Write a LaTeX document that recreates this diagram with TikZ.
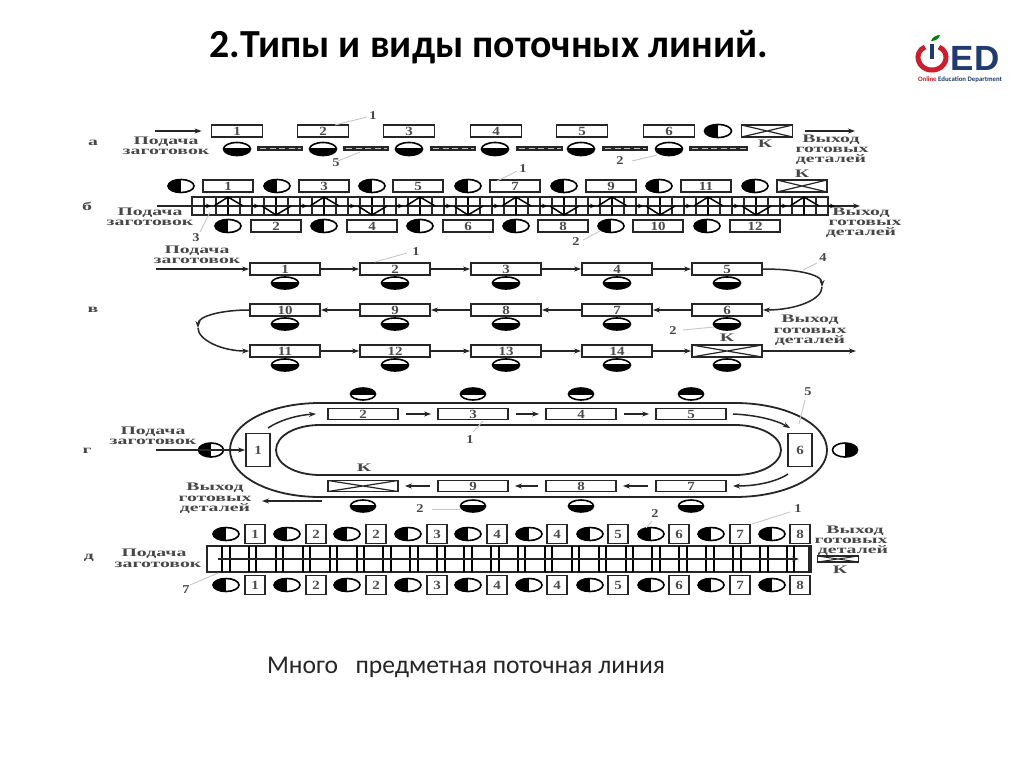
\documentclass[tikz,border=0pt]{standalone}
\usepackage{fontspec}
\setmainfont{Carlito}
\newfontfamily\lab[FakeStretch=1.72]{Liberation Serif}
\newfontfamily\labn[FakeStretch=1.2]{Liberation Serif}
\newfontfamily\logofont{Liberation Sans}
\usetikzlibrary{shapes.geometric,arrows.meta}
\colorlet{ink}{black!85}
\definecolor{logoblue}{HTML}{1F3B70}
\definecolor{logored}{HTML}{C8202E}
\tikzset{
  lw/.style={line width=1.8pt,draw=ink},
  bx/.style={lw,rectangle,inner sep=0pt,minimum height=12pt,minimum width=50pt,fill=white,font=\labn\bfseries\fontsize{12.5}{12}\selectfont,text=black!70},
  xbx/.style={bx,path picture={\draw[ink,line width=1.2pt]
     (path picture bounding box.south west)--(path picture bounding box.north east)
     (path picture bounding box.north west)--(path picture bounding box.south east);}},
  mach/.style={ellipse,draw=black,line width=1.6pt,fill=white,inner sep=0pt,minimum width=26pt,minimum height=13pt},
  mb/.style={mach,path picture={\fill[black] ([yshift=1pt]path picture bounding box.west) rectangle (path picture bounding box.south east);}},
  mt/.style={mach,path picture={\fill[black] (path picture bounding box.north west) rectangle ([yshift=-1pt]path picture bounding box.east);}},
  ml/.style={mach,path picture={\fill[black] (path picture bounding box.south west) rectangle (path picture bounding box.north);}},
  mr/.style={mach,path picture={\fill[black] (path picture bounding box.south) rectangle (path picture bounding box.north east);}},
  txt/.style={font=\lab\bfseries\fontsize{11.5}{11}\selectfont,text=black!72,inner sep=0pt},
  lead/.style={draw=black!22,line width=.9pt},
  conv/.style={draw=ink,line width=1.5pt,-{Stealth[length=7pt,width=5pt]}},
}
\begin{document}
\begin{tikzpicture}[x=1pt,y=-1pt]
\useasboundingbox (0,0) rectangle (1024,767);
\fill[white] (0,0) rectangle (1024,767);
% title and caption
\node[font=\bfseries\fontsize{39.8}{42}\selectfont,inner sep=0pt] (title) at (489,47) {2.Типы и виды поточных линий.};
\node[font=\fontsize{25.6}{28}\selectfont,inner sep=0pt,text=black!85] (cap) at (466,667) {Много \ \ предметная поточная линия};
% logo
\draw[line width=5pt,logored] (925,47) .. controls (913,52) and (917,70) .. (932,70) .. controls (947,70) and (951,52) .. (939,47);
\draw[line width=4pt,logoblue] (932,44)--(932,59);
\fill[green!50!black] (931,41) .. controls (932,37) and (937,35) .. (940,35) .. controls (939,39) and (935,41) .. (931,41);
\node[font=\logofont\bfseries\fontsize{35}{35}\selectfont,text=logoblue,inner sep=0pt] (ed) at (975,58) {ED};
\node[font=\bfseries\fontsize{6.8}{7}\selectfont,text=logoblue,inner sep=0pt] (dept) at (960,79.5) {\textcolor{logored}{Online} Education Department};
% row labels
\foreach \n/\x/\y/\t in {ra/93/143/а,rb/87/206/б,rv/93/310/в,rg/87/451/г,rd/89/558/д}
  \node[txt] (\n) at (\x,\y) {\t};
% ---- row a
\foreach \x/\l in {237/1,323/2,409/3,496/4,582/5,669/6}
  \node[bx,minimum width=51pt] (a\l) at (\x,131) {\l};
\node[xbx,minimum width=51pt] (aK) at (767,131) {};
\node[ml,minimum width=27pt] (amK) at (718,131) {};
\foreach \x/\l in {237/1,323/2,409/3,495/4,581/5,669/6}
  \node[mb,minimum width=27pt] (am\l) at (\x,149) {};
\foreach \n/\a/\b in {1/257/303,2/343/389,3/430/476,4/516/563,5/602/648,6/689/748}{
  \draw[line width=5pt,black!85] (\a,149)--(\b,149);
  \draw[line width=1pt,black!25,dash pattern=on 6pt off 3.5pt] (\a+3,149)--(\b-2,149);
}
\coordinate (ain) at (155,131); \draw[conv,shorten >=9pt] (ain)--(a1.west);
\coordinate (aout) at (855,131); \coordinate (aout0) at (805,131); \draw[conv] (aout0)--(aout);
\node[txt] (t1) at (166,142) {Подача};
\node[txt] (t2) at (166,152) {заготовок};
\node[txt] (t3) at (831,140) {Выход};
\node[txt] (t4) at (832,150) {готовых};
\node[txt] (t5) at (831,160) {деталей};
\node[txt] (tK1) at (765,144) {К};
% ---- row b
\foreach \x/\l in {228/1,324/3,418/5,515/7,611/9,706/11}
  \node[bx] (b\l) at (\x,186) {\l};
\node[xbx] (bK) at (802,186) {};
\foreach \x [count=\i] in {181,277,372,468,564,659,755}
  \node[ml] (bm\i) at (\x,186) {};
\foreach \x/\l in {276/2,372/4,468/6,563/8,658/10,755/12}
  \node[bx] (b\l) at (\x,226) {\l};
\foreach \x [count=\i] in {228,324,420,516,611,707}
  \node[ml] (bn\i) at (\x,226) {};
\node[draw=ink,line width=1.7pt,inner sep=0pt,minimum width=636pt,minimum height=18pt] (bc) at (510,206) {};
\foreach \i in {0,...,53} \draw[ink,line width=1.5pt] (192+12*\i,197)--(192+12*\i,215);
\foreach \i in {0,...,6} \draw[black,line width=2.2pt] (228+96*\i,197)--(228+96*\i,215);
\foreach \i in {0,...,5} \draw[black,line width=2.2pt] (276+96*\i,197)--(276+96*\i,215);
\coordinate (bin) at (157,206); \coordinate (bout) at (860,206);
\draw[conv] (bin)--(bout);
\foreach \i in {0,...,6} \draw[black,line width=1.5pt] (214+96*\i,206)--(228+96*\i,197)--(243+96*\i,206);
\foreach \i in {0,...,5} \draw[black,line width=1.5pt] (262+96*\i,206)--(276+96*\i,215)--(291+96*\i,206);
\foreach \i in {0,...,13} \draw[-{Stealth[length=5pt,width=4.5pt]},black,line width=1.2pt] (204+48*\i,206)--(211+48*\i,206);
\node[txt] (t6) at (150,213) {Подача};
\node[txt] (t7) at (150,223) {заготовок};
\node[txt] (t8) at (861,213) {Выход};
\node[txt] (t9) at (865,223) {готовых};
\node[txt] (t10) at (861,233) {деталей};
\node[txt] (tK2) at (802,174) {К};
% ---- row v
\foreach \x/\l/\m/\n in {285/1/10/11,395/2/9/12,506/3/8/13,617/4/7/14,727/5/6/K}{
  \node[bx,minimum width=70pt] (v\l) at (\x,269) {\l};
  \node[bx,minimum width=70pt] (v\m) at (\x,310) {\m};
  \node[mb,minimum width=27pt,minimum height=12pt] (vm\l) at (\x,283) {};
  \node[mb,minimum width=27pt,minimum height=12pt] (vm\m) at (\x,324) {};
  \node[mb,minimum width=27pt,minimum height=12pt] (vn\n) at (\x,365) {};
}
\foreach \x/\n in {285/11,395/12,506/13,617/14}
  \node[bx,minimum width=70pt] (v\n) at (\x,351) {\n};
\node[xbx,minimum width=70pt] (vK) at (727,351) {};
\foreach \a/\b in {1/2,2/3,3/4,4/5,11/12,12/13,13/14,14/K,6/7,7/8,8/9,9/10}
  \draw[conv] (v\a)--(v\b);
\coordinate (vin) at (156,269); \draw[conv] (vin)--(v1);
\coordinate (vout) at (856,351); \draw[conv] (vK)--(vout);
\coordinate (vR) at (822,287); \coordinate (vL) at (198,328);
\draw[conv] (v5.east) .. controls (795,269) and (822,274) .. (vR);
\draw[conv] (vR) .. controls (822,300) and (795,310) .. (v6.east);
\draw[conv] (v10.west) .. controls (222,310) and (198,316) .. (vL);
\draw[conv] (vL) .. controls (198,340) and (222,351) .. (v11.west);
\node[txt] (t11) at (197,251) {Подача};
\node[txt] (t12) at (197,261) {заготовок};
\node[txt] (t13) at (810,320) {Выход};
\node[txt] (t14) at (810,331) {готовых};
\node[txt] (t15) at (810,341) {деталей};
\node[txt] (tK3) at (727,338) {К};
% ---- row g
\draw[lw] (320,403)--(735,403) .. controls (786,403) and (827,424) .. (827,450) .. controls (827,476) and (786,497) .. (735,497)--(320,497) .. controls (269,497) and (230,476) .. (230,450) .. controls (230,424) and (269,403) .. (320,403)--cycle;
\draw[lw] (320,425)--(735,425) .. controls (760,425) and (781,436) .. (781,450) .. controls (781,464) and (760,475) .. (735,475)--(320,475) .. controls (295,475) and (276,464) .. (276,450) .. controls (276,436) and (295,425) .. (320,425)--cycle;
\foreach \x/\l/\m in {363/2/K,473/3/9,581/4/8,691/5/7}{
  \node[bx,minimum width=70pt,minimum height=11pt] (g\l) at (\x,414) {\l};
  \node[mt,minimum width=25pt,minimum height=12pt] (gt\l) at (\x,394) {};
  \node[mb,minimum width=25pt,minimum height=12pt] (gb\l) at (\x,506) {};
}
\node[xbx,minimum width=70pt,minimum height=11pt] (gK) at (363,486) {};
\foreach \x/\m in {473/9,581/8,691/7}
  \node[bx,minimum width=70pt,minimum height=11pt] (g\m) at (\x,486) {\m};
\node[bx,minimum width=24pt,minimum height=33pt] (g1) at (258,450) {1};
\node[bx,minimum width=24pt,minimum height=33pt] (g6) at (800,450) {6};
\node[ml,minimum width=25pt,minimum height=14pt] (gmL) at (211,450) {};
\node[mr,minimum width=25pt,minimum height=14pt] (gmR) at (845,450) {};
\foreach \a/\b in {2/3,3/4,4/5,7/8,8/9,9/K}
  \draw[conv,shorten >=6pt,shorten <=7pt] (g\a)--(g\b);
\coordinate (gin) at (156,450); \draw[conv] (gin)--(g1);
\coordinate (a1s) at (268,428); \coordinate (a2e) at (316,414);
\draw[conv] (a1s) .. controls (280,420) and (298,415) .. (a2e);
\coordinate (b1s) at (733,414); \coordinate (b2e) at (790,428);
\draw[conv] (b1s) .. controls (756,415) and (776,420) .. (b2e);
\coordinate (c1s) at (788,474); \coordinate (c2e) at (733,486);
\draw[conv] (c1s) .. controls (776,482) and (756,486) .. (c2e);
\coordinate (gos) at (322,501); \coordinate (goe) at (262,501);
\draw[conv] (gos)--(goe);
\node[txt] (t16) at (153,432) {Подача};
\node[txt] (t17) at (153,442) {заготовок};
\node[txt] (t18) at (215,488) {Выход};
\node[txt] (t19) at (215,499) {готовых};
\node[txt] (t20) at (215,509) {деталей};
\node[txt] (tK4) at (364,468) {К};
% ---- row d
\foreach \x/\l [count=\i] in {255/1,316/2,376/2,437/3,497/4,557/4,618/5,679/6,740/7,800/8}{
  \node[bx,minimum width=20pt,minimum height=19pt] (du\i) at (\x,534) {\l};
  \node[bx,minimum width=20pt,minimum height=19pt] (dl\i) at (\x,585) {\l};
}
\foreach \x [count=\i] in {226,287,347,408,468,529,590,651,711,772}{
  \node[ml] (dmu\i) at (\x,534) {};
  \node[ml] (dml\i) at (\x,585) {};
}
\node[draw=ink,line width=1.7pt,inner sep=0pt,minimum width=604pt,minimum height=26pt] (dc) at (509,559) {};
\foreach \i in {0,...,21}{
  \draw[black,line width=2pt] (222+26.9*\i,546)--(222+26.9*\i,572);
  \draw[black,line width=2pt] (229.5+26.9*\i,546)--(229.5+26.9*\i,572);
}
\fill[ink] (808,546) rectangle (811.5,572);
\coordinate (dis) at (218,559); \coordinate (die) at (799,559);
\draw[conv] (dis)--(die);
\node[draw=ink,line width=1.6pt,fill=white,inner sep=0pt,minimum width=41pt,minimum height=6pt,path picture={\draw[ink,line width=1pt]
     (path picture bounding box.south west)--(path picture bounding box.north east)
     (path picture bounding box.north west)--(path picture bounding box.south east);}] (dK) at (838,559) {};
\node[txt] (t21) at (154,554) {Подача};
\node[txt] (t22) at (158,565) {заготовок};
\node[txt] (t23) at (855,531) {Выход};
\node[txt] (t24) at (851,541) {готовых};
\node[txt] (t25) at (853,551) {деталей};
\node[txt] (tK5) at (840,570) {К};
% ---- callouts
\foreach \n/\x/\y/\t/\p/\q/\r/\s in {
 c1/373/116/1/335/125/367/117,
 c2/336/163/5/338/161/360/152,
 c3/620/161/2/632/161/657/155,
 c4/523/169/1/497/181/517/171,
 c5/196/238/3/200/232/210/212,
 c6/576/242/2/583/240/600/231,
 c7/416/252/1/375/262/407/253,
 c8/823/258/4/803/270/817/263,
 c9/673/331/2/683/330/714/327,
 c10/470/440/1/473/432/483/421,
 c11/808/392/5/805/400/799/424,
 c12/420/509/2/432/509/460/509,
 c13/655/514/2/652/521/646/528,
 c14/798/509/1/752/524/790/512,
 c15/186/590/7/190/585/218/573}{
  \node[txt,font=\labn\bfseries\fontsize{12}{12}\selectfont] (\n) at (\x,\y) {\t};
  \coordinate (\n a) at (\p,\q); \coordinate (\n b) at (\r,\s);
  \draw[lead] (\n a)--(\n b);
}
\end{tikzpicture}
\end{document}
